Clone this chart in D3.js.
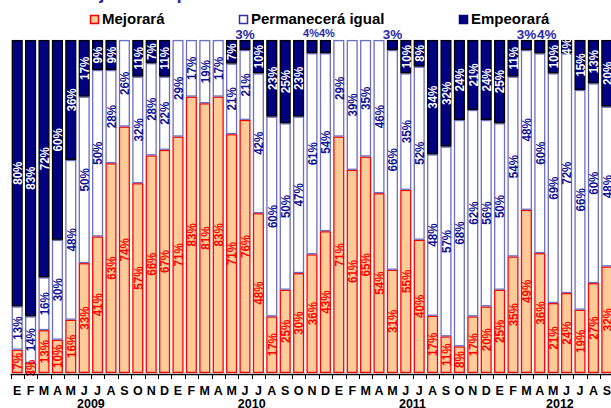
<!DOCTYPE html>
<html><head><meta charset="utf-8">
<script src="https://cdn.jsdelivr.net/npm/d3@7"></script>
<style>
html,body{margin:0;padding:0;background:#fff;overflow:hidden}
svg{display:block;font-family:"Liberation Sans",Arial,sans-serif}
</style></head>
<body><svg id="c" width="611" height="408"></svg>
<script>
const months = ["E","F","M","A","M","J","J","A","S","O","N","D",
                "E","F","M","A","M","J","J","A","S","O","N","D",
                "E","F","M","A","M","J","J","A","S","O","N","D",
                "E","F","M","A","M","J","J","A","S"];
const years = ["2009","2010","2011","2012"];
const mejorara = [7,3,13,10,16,33,41,63,74,57,66,67, 71,83,81,83,71,76,48,17,25,30,36,43, 71,61,65,54,31,55,40,17,11,8,17,20, 25,35,49,36,21,24,19,27,32];
const permanecera = [13,14,16,30,48,50,50,28,26,32,28,22, 29,17,19,17,21,21,42,60,50,47,61,54, 29,39,35,46,66,35,52,48,57,68,62,56, 50,54,48,60,69,72,66,60,48];
const empeorara = [80,83,72,60,36,17,9,9,0,11,7,11, 0,0,0,0,7,3,10,23,25,23,4,4, 0,0,0,0,3,10,8,34,32,24,21,24, 25,11,3,4,10,4,15,13,20];
const seriesNames = ["Mejorará","Permanecerá igual","Empeorará"];
// months whose "Empeorará" label sits above the bar
const labelAbove = [17,22,23,28,38,39];

const W = 611, H = 408;
const svg = d3.select("#c");
const keys = ["mej","perm","emp"];
const rows = months.map((m,i)=>({i, mej:mejorara[i], perm:permanecera[i], emp:empeorara[i]}));
const stack = d3.stack().keys(keys).offset(d3.stackOffsetExpand);
const series = stack(rows);

const x = d3.scaleBand().domain(d3.range(months.length)).range([10.5, 613.5]).paddingInner(0.18).paddingOuter(0.09);
const y = d3.scaleLinear().domain([0,1]).range([373, 40]);

const fills = {mej:"#FFCC99", perm:"#FFFFFF", emp:"#000080"};
const strokes = {mej:"#FF0000", perm:"#6E6EBE", emp:"#000000"};
const txtCol = {mej:"#FF0000", perm:"#101090", emp:"#FFFFFF"};

// cut-off title
svg.append("text").attr("x",18).attr("y",-1).attr("font-size",19).attr("font-weight","bold")
  .attr("fill","#2A2AA0").text("Porcentaje de respuestas");

// bars
series.forEach(s=>{
  const k = s.key;
  svg.append("g").selectAll("rect").data(s.filter(d=>d.data[k]>0)).join("rect")
    .attr("x", d=>x(d.data.i)+0.6)
    .attr("width", x.bandwidth()-1.2)
    .attr("y", d=>y(d[1])+0.6)
    .attr("height", d=>Math.max(0, y(d[0])-y(d[1])-1.2))
    .attr("fill", fills[k]).attr("stroke", strokes[k]).attr("stroke-width",1.3);
});

// labels inside
function condense(sel, f){
  sel.each(function(){
    const L = this.getComputedTextLength();
    d3.select(this).attr("textLength", L*f).attr("lengthAdjust","spacingAndGlyphs");
  });
}
series.forEach(s=>{
  const k = s.key;
  const data = s.filter(d=>d.data[k]>0 && !(k==="emp" && labelAbove.includes(d.data.i)));
  const t = svg.append("g").selectAll("text").data(data).join("text")
    .attr("transform", d=>{
      const cx = x(d.data.i)+x.bandwidth()/2;
      const cy = (y(d[0])+y(d[1]))/2;
      return `translate(${cx},${cy}) rotate(-90)`;
    })
    .attr("text-anchor","middle").attr("dy","0.36em")
    .attr("font-size",13.5).attr("font-weight","bold")
    .attr("fill", txtCol[k])
    .text(d=>d.data[k]+"%");
  condense(t, 0.86);
});

// labels above
const nudge = {22:-1, 23:1.5, 39:7};
svg.append("g").selectAll("text").data(labelAbove).join("text")
  .attr("x", i=>x(i)+x.bandwidth()/2 + (nudge[i]||0))
  .attr("y", i=> (i===22||i===23) ? 36.5 : 38.5)
  .attr("text-anchor","middle")
  .attr("font-size", i=> (i===22||i===23) ? 11 : 13.5)
  .attr("font-weight","bold").attr("fill","#2A2AA8")
  .text(i=>empeorara[i]+"%");

// axis
svg.append("line").attr("x1",x.range()[0]).attr("x2",W).attr("y1",374.5).attr("y2",374.5)
  .attr("stroke","#000").attr("stroke-width",1.6);
svg.append("g").selectAll("line").data(d3.range(months.length+1)).join("line")
  .attr("x1", i=>Math.round(x.range()[0]+i*x.step())+0.5)
  .attr("x2", i=>Math.round(x.range()[0]+i*x.step())+0.5)
  .attr("y1",374).attr("y2",379).attr("stroke","#000").attr("stroke-width",1);
svg.append("g").selectAll("text").data(months).join("text")
  .attr("x",(m,i)=>x(i)+x.bandwidth()/2).attr("y",394.5)
  .attr("text-anchor","middle").attr("font-size",12.5).attr("font-weight","bold").attr("fill","#000")
  .text(m=>m);
const yearSpan = [12,12,12,10];
let acc = 0;
years.forEach((yr,j)=>{
  const x0 = x.range()[0] + acc*x.step();
  const cx = x0 + yearSpan[j]*x.step()/2;
  acc += 12;
  svg.append("text").attr("x",cx).attr("y",407.5).attr("text-anchor","middle")
    .attr("font-size",12.5).attr("font-weight","bold").attr("fill","#000").text(yr);
});

// legend
const legX = [90, 239, 459];
seriesNames.forEach((n,j)=>{
  const k = keys[j];
  svg.append("rect").attr("x",legX[j]+0.5).attr("y",15.5).attr("width",8).attr("height",8)
    .attr("fill",fills[k]).attr("stroke", k==="mej"?"#FF0000":(k==="perm"?"#3030A0":"#000080")).attr("stroke-width",1.5);
  svg.append("text").attr("x",legX[j]+12).attr("y",24).attr("font-size",15).attr("font-weight","bold")
    .attr("fill","#000").text(n);
});
</script></body></html>
